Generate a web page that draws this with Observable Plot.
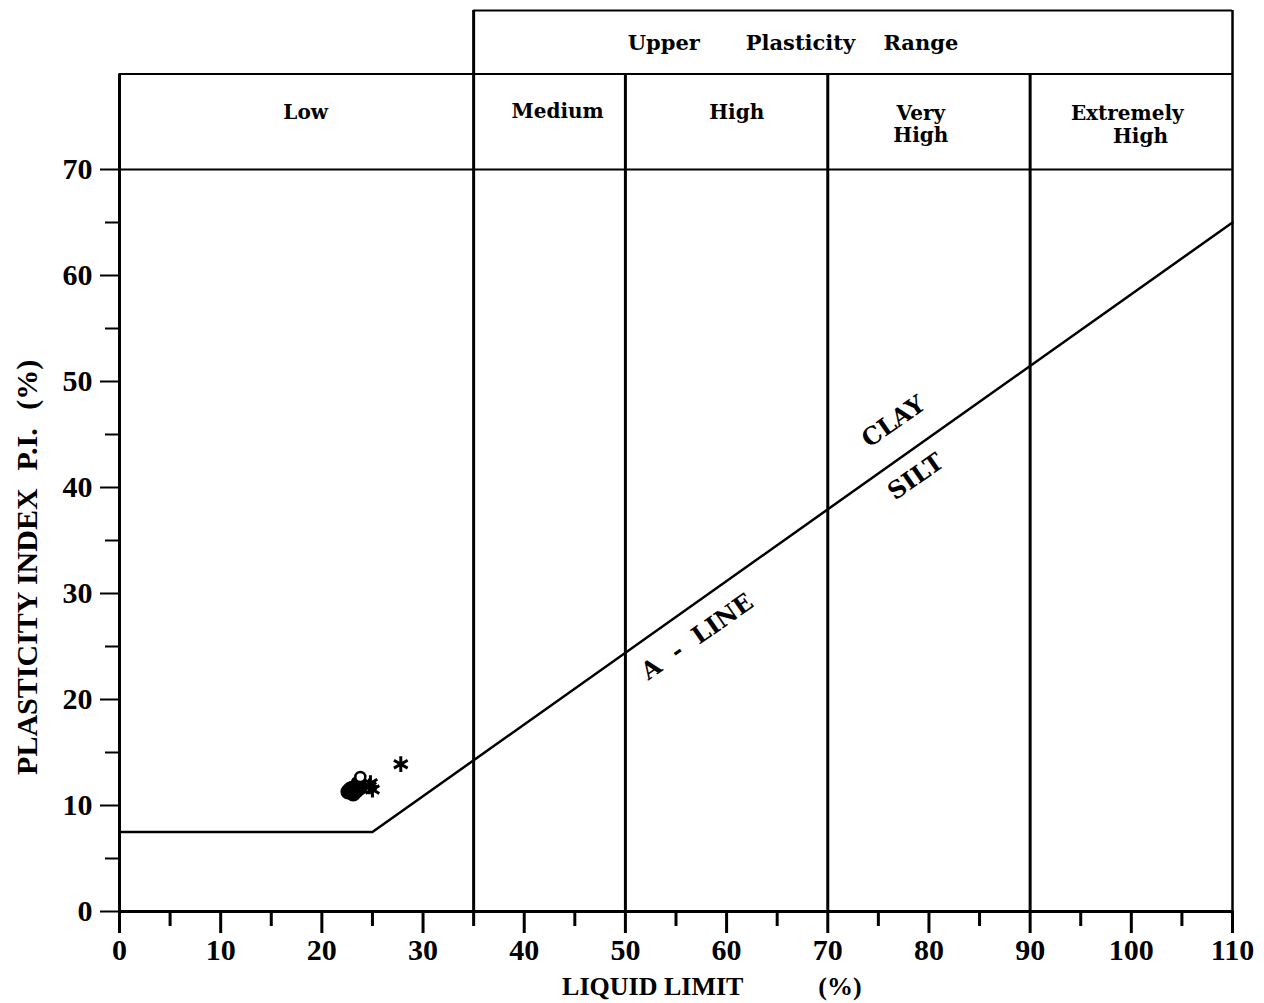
<!DOCTYPE html>
<html>
<head>
<meta charset="utf-8">
<script src="https://cdn.jsdelivr.net/npm/d3@7"></script>
<script src="https://cdn.jsdelivr.net/npm/@observablehq/plot@0.6"></script>
<style>
  html, body { margin: 0; padding: 0; background: #fff; }
  #chart svg { display: block; }
</style>
</head>
<body>
<div id="chart"></div>
<script>
// ---- data ----
const xMajorTicks = [0, 10, 20, 30, 40, 50, 60, 70, 80, 90, 100, 110];
const xMinorTicks = [5, 15, 25, 35, 45, 55, 65, 75, 85, 95, 105];
const yMajorTicks = [0, 10, 20, 30, 40, 50, 60, 70];
const yMinorTicks = [5, 15, 25, 35, 45, 55, 65];

// A-line (liquid limit vs plasticity index)
const aLineLL = [0, 25, 110];
const aLinePI = [7.5, 7.5, 65.0];

// range boundaries (liquid limit)
const rangeNames = ["Low", "Medium", "High", "Very\nHigh", "Extremely", "High"];
const rangeLabelLL = [18.4, 43.3, 61.0, 79.2, 99.6, 100.9];
const rangeLabelPI = [75.4, 75.5, 75.4, 74.3, 75.3, 73.2];

const upperWords = ["Upper", "Plasticity", "Range"];
const upperWordLL = [53.8, 67.3, 79.2];

// samples
const circleLL = [22.6, 23.0, 23.4, 23.8, 23.1, 22.8, 23.6];
const circlePI = [11.3, 11.6, 11.4, 11.7, 11.1, 11.5, 12.1];
const openLL = [23.8];
const openPI = [12.7];
const starLL = [24.7, 25.0, 24.8];
const starPI = [11.8, 11.5, 12.1];
const lonelyStarLL = [27.8];
const lonelyStarPI = [13.9];

// ---- tables built from arrays ----
const aLine = aLineLL.map((x, i) => ({x, y: aLinePI[i]}));
const rangeLabels = rangeNames.map((t, i) => ({t, x: rangeLabelLL[i], y: rangeLabelPI[i]}));
const upperLabels = upperWords.map((t, i) => ({t, x: upperWordLL[i], y: 81.9}));
const circles = circleLL.map((x, i) => ({x, y: circlePI[i]}));
const opens = openLL.map((x, i) => ({x, y: openPI[i]}));
const stars = starLL.map((x, i) => ({x, y: starPI[i]})).concat(lonelyStarLL.map((x, i) => ({x, y: lonelyStarPI[i]})));

const serif = "'Liberation Serif', 'DejaVu Serif', serif";
const serifWide = "'DejaVu Serif', 'Liberation Serif', serif";

const chart = Plot.plot({
  width: 1264,
  height: 1003,
  marginLeft: 119,
  marginRight: 32,
  marginTop: 10,
  marginBottom: 92,
  x: {domain: [0, 110], axis: null},
  y: {domain: [0, 85], axis: null},
  style: {fontFamily: serif, fontWeight: "bold", color: "#000", background: "#fff"},
  marks: [
    // frame and grid lines
    Plot.ruleY([0], {x1: 0, x2: 110, strokeWidth: 3}),
    Plot.ruleY([70], {x1: 0, x2: 110, strokeWidth: 2}),
    Plot.ruleY([79], {x1: 0, x2: 110, strokeWidth: 2}),
    Plot.ruleY([85], {x1: 35, x2: 110, strokeWidth: 2}),
    Plot.ruleX([0], {y1: 0, y2: 79, strokeWidth: 3}),
    Plot.ruleX([35], {y1: 0, y2: 85, strokeWidth: 3}),
    Plot.ruleX([50, 70, 90], {y1: 0, y2: 79, strokeWidth: 3}),
    Plot.ruleX([110], {y1: 0, y2: 85, strokeWidth: 2.5}),
    // axes
    Plot.axisX({ticks: xMajorTicks, tickSize: 22, tickPadding: 5, fontSize: 30, strokeWidth: 3, label: null}),
    Plot.axisX({ticks: xMinorTicks, tickSize: 15, text: null, strokeWidth: 3, label: null}),
    Plot.axisY({ticks: yMajorTicks, tickSize: 19, tickPadding: 8, fontSize: 30, strokeWidth: 2, label: null}),
    Plot.axisY({ticks: yMinorTicks, tickSize: 14, text: null, strokeWidth: 2, label: null}),
    // A-line
    Plot.line(aLine, {x: "x", y: "y", strokeWidth: 2.5, stroke: "#000"}),
    Plot.text(["A  -  LINE"], {x: 57.1, y: 25.9, rotate: -35, fontSize: 24, fontFamily: serifWide}),
    Plot.text(["CLAY"], {x: 76.5, y: 46.2, rotate: -35, fontSize: 24, fontFamily: serifWide}),
    Plot.text(["SILT"], {x: 78.7, y: 41.0, rotate: -35, fontSize: 24, fontFamily: serifWide}),
    // range labels
    Plot.text(rangeLabels, {x: "x", y: "y", text: "t", fontSize: 20, lineHeight: 1.1, fontFamily: serifWide}),
    Plot.text(upperLabels, {x: "x", y: "y", text: "t", fontSize: 21, fontFamily: serifWide}),
    // axis titles
    Plot.text(["LIQUID LIMIT"], {x: 52.7, y: -7.1, fontSize: 26}),
    Plot.text(["(%)"], {x: 71.2, y: -7.1, fontSize: 26}),
    Plot.text(["PLASTICITY INDEX"], {x: -9.1, y: 26.4, rotate: -90, fontSize: 30}),
    Plot.text(["P.I."], {x: -9.1, y: 43.6, rotate: -90, fontSize: 30}),
    Plot.text(["(%)"], {x: -9.1, y: 49.7, rotate: -90, fontSize: 30}),
    // samples
    Plot.dot(circles, {x: "x", y: "y", r: 7, fill: "#000", stroke: "#000"}),
    Plot.dot(opens, {x: "x", y: "y", r: 5, fill: "#fff", stroke: "#000", strokeWidth: 2.5}),
    Plot.dot(stars, {x: "x", y: "y", symbol: "asterisk", r: 7.5, stroke: "#000", strokeWidth: 3})
  ]
});

document.getElementById("chart").appendChild(chart);
</script>
</body>
</html>
